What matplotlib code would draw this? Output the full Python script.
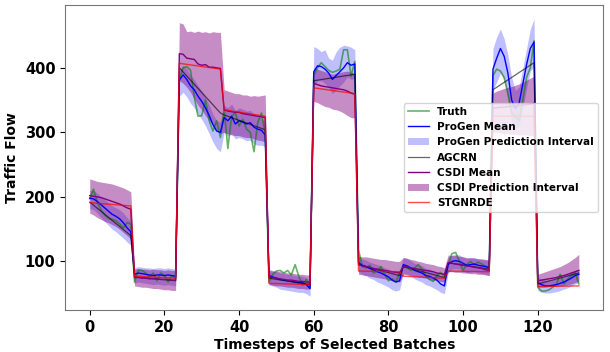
import numpy as np
import matplotlib
matplotlib.use("Agg")
import matplotlib.pyplot as plt
from matplotlib.patches import Patch
from matplotlib.lines import Line2D

# values, 11 batches of 12 timesteps
truth = [197, 212, 192, 180, 172, 167, 165, 163, 158, 152, 160, 158,
         68, 86, 86, 82, 75, 82, 70, 82, 78, 68, 78, 74,
         382, 400, 402, 396, 355, 325, 326, 350, 318, 302, 318, 292,
         335, 275, 325, 330, 310, 320, 305, 300, 270, 315, 330, 298,
         68, 80, 85, 86, 82, 86, 79, 95, 77, 63, 72, 60,
         388, 400, 408, 402, 396, 393, 395, 398, 428, 428, 387, 410,
         118, 92, 90, 94, 82, 85, 92, 80, 70, 73, 68, 82,
         93, 90, 86, 90, 95, 88, 78, 72, 69, 78, 83, 75,
         95, 112, 114, 100, 86, 95, 100, 94, 99, 96, 92, 92,
         388, 398, 395, 385, 360, 330, 325, 318, 350, 385, 400, 442,
         60, 54, 54, 56, 60, 65, 80, 65, 72, 78, 83, 65]

progen_mean = [198, 197, 193, 188, 183, 178, 173, 170, 166, 160, 152, 146,
               80, 82, 81, 80, 79, 78, 79, 79, 78, 79, 78, 77,
               381, 389, 382, 372, 366, 356, 348, 338, 326, 312, 302, 300,
               323, 318, 325, 313, 318, 316, 313, 315, 308, 305, 303, 296,
               78, 76, 74, 72, 71, 70, 69, 68, 67, 67, 64, 58,
               394, 403, 402, 398, 392, 382, 388, 394, 400, 408, 404, 406,
               98, 94, 92, 89, 87, 84, 82, 79, 76, 71, 68, 70,
               95, 93, 90, 86, 84, 82, 78, 77, 74, 71, 65, 62,
               95, 100, 101, 100, 97, 94, 95, 96, 94, 93, 92, 90,
               398, 415, 430, 418, 392, 350, 337, 345, 375, 405, 430, 440,
               67, 64, 62, 62, 63, 64, 66, 68, 71, 74, 78, 80]

progen_lo = [182, 180, 175, 168, 162, 156, 150, 146, 141, 136, 130, 125,
             66, 68, 67, 66, 65, 64, 65, 64, 63, 64, 63, 62,
             356, 362, 355, 345, 338, 328, 320, 310, 298, 285, 275, 270,
             300, 294, 298, 290, 292, 290, 287, 288, 282, 280, 280, 278,
             64, 62, 60, 57, 56, 55, 54, 53, 52, 52, 50, 46,
             372, 380, 380, 376, 370, 360, 366, 372, 378, 386, 382, 384,
             84, 80, 78, 74, 72, 68, 66, 63, 60, 56, 54, 56,
             82, 80, 77, 73, 70, 68, 64, 62, 59, 56, 52, 50,
             82, 88, 89, 88, 85, 82, 83, 84, 82, 81, 80, 78,
             365, 378, 392, 382, 352, 315, 305, 310, 338, 368, 395, 402,
             55, 52, 51, 51, 52, 53, 55, 57, 59, 62, 65, 67]

progen_hi = [210, 210, 206, 200, 196, 191, 186, 183, 180, 175, 168, 162,
             90, 92, 91, 90, 90, 89, 90, 90, 89, 90, 89, 88,
             396, 404, 398, 388, 382, 372, 364, 354, 342, 328, 318, 316,
             342, 338, 344, 334, 338, 336, 333, 334, 328, 325, 322, 316,
             88, 86, 84, 82, 81, 80, 79, 78, 77, 77, 75, 70,
             433, 430, 425, 428, 415, 412, 425, 432, 435, 434, 432, 428,
             108, 104, 102, 99, 97, 95, 93, 90, 88, 84, 82, 84,
             106, 104, 101, 97, 95, 93, 89, 88, 85, 82, 77, 74,
             106, 110, 111, 110, 107, 104, 105, 106, 104, 103, 102, 100,
             430, 448, 460, 445, 420, 385, 365, 370, 400, 430, 460, 476,
             75, 73, 71, 71, 72, 73, 75, 77, 80, 83, 86, 88]

csdi_mean = [202, 201, 200, 199, 197, 195, 193, 191, 189, 186, 183, 181,
             75, 75, 74, 74, 73, 73, 73, 72, 72, 72, 71, 71,
             422, 421, 415, 414, 413, 406, 404, 405, 401, 401, 400, 399,
             335, 333, 332, 331, 331, 329, 328, 327, 326, 325, 324, 323,
             76, 75, 74, 73, 72, 71, 71, 70, 69, 69, 68, 68,
             376, 374, 372, 371, 370, 369, 368, 367, 366, 364, 361, 359,
             95, 93, 92, 91, 89, 88, 87, 86, 85, 84, 83, 82,
             92, 91, 90, 89, 88, 87, 86, 85, 84, 82, 81, 80,
             98, 97, 96, 95, 94, 93, 92, 91, 90, 89, 87, 86,
             338, 338, 339, 339, 340, 340, 341, 342, 342, 343, 344, 345,
             70, 71, 72, 73, 74, 75, 77, 78, 80, 82, 84, 86]

csdi_lo = [175, 172, 168, 165, 162, 160, 157, 154, 150, 145, 140, 135,
           62, 61, 60, 60, 59, 58, 58, 57, 56, 56, 55, 55,
           380, 376, 370, 362, 352, 342, 335, 326, 318, 310, 302, 298,
           300, 298, 296, 295, 295, 293, 292, 292, 290, 288, 287, 285,
           64, 63, 62, 62, 61, 60, 60, 59, 58, 58, 57, 57,
           348, 346, 343, 340, 339, 336, 335, 333, 330, 326, 323, 322,
           80, 79, 78, 77, 76, 75, 74, 73, 72, 70, 69, 68,
           80, 79, 78, 77, 76, 75, 74, 72, 71, 70, 69, 68,
           84, 84, 83, 83, 82, 82, 81, 81, 80, 80, 79, 78,
           300, 300, 299, 298, 298, 297, 297, 296, 296, 296, 295, 295,
           60, 60, 60, 61, 61, 62, 62, 63, 64, 65, 67, 70]

csdi_hi = [228, 226, 224, 223, 222, 221, 220, 218, 216, 214, 211, 208,
           88, 89, 88, 88, 87, 88, 87, 87, 86, 87, 86, 86,
           470, 468, 456, 457, 455, 457, 455, 456, 454, 456, 455, 455,
           366, 364, 362, 360, 360, 358, 358, 356, 357, 356, 357, 358,
           86, 85, 85, 84, 83, 82, 82, 81, 80, 80, 79, 79,
           400, 398, 396, 394, 392, 390, 392, 393, 394, 395, 393, 392,
           108, 107, 107, 106, 105, 104, 103, 103, 102, 101, 100, 100,
           106, 105, 103, 102, 100, 99, 97, 96, 95, 93, 92, 90,
           110, 109, 109, 108, 107, 106, 106, 105, 104, 104, 103, 103,
           361, 364, 366, 368, 370, 371, 373, 375, 378, 381, 384, 387,
           80, 82, 84, 86, 88, 90, 92, 95, 98, 102, 106, 111]

# AGCRN and STGNRDE are straight within each batch: first and last value of every batch
agcrn_ends = [192, 140, 76, 70, 400, 330, 327, 304, 74, 64, 380, 390,
              95, 78, 92, 75, 98, 88, 366, 408, 65, 82]
stgnrde_ends = [191, 186, 77, 74, 407, 398, 335, 325, 66, 64, 369, 360,
                85, 84, 77, 74, 85, 84, 325, 325, 61, 62]

t = np.arange(len(truth))
starts = np.arange(0, len(truth), 12)
t_ends = np.column_stack([starts, starts + 11]).ravel()

fig = plt.figure(figsize=(6.1, 3.52), dpi=100)
ax = fig.add_axes([0.107, 0.119, 0.882, 0.867])

ax.fill_between(t, progen_lo, progen_hi, color='blue', alpha=0.25, lw=0)
ax.fill_between(t, csdi_lo, csdi_hi, color='purple', alpha=0.45, lw=0)
ax.plot(t, truth, color='green', alpha=0.6, lw=1.2)
ax.plot(t, progen_mean, color='blue', lw=1.0)
ax.plot(t_ends, agcrn_ends, color='black', alpha=0.6, lw=0.9)
ax.plot(t, csdi_mean, color='purple', lw=1.0)
ax.plot(t_ends, stgnrde_ends, color='red', alpha=0.7, lw=1.0)

ax.set_xticks([0, 20, 40, 60, 80, 100, 120])
ax.set_yticks([100, 200, 300, 400])
ax.tick_params(labelsize=10.5)
for lab in ax.get_xticklabels() + ax.get_yticklabels():
    lab.set_fontweight('bold')
ax.set_xlabel('Timesteps of Selected Batches', fontsize=10, fontweight='bold', labelpad=2)
ax.set_ylabel('Traffic Flow', fontsize=10, fontweight='bold', labelpad=4)
for sp in ax.spines.values():
    sp.set_color('#777777')

handles = [Line2D([], [], color='green', alpha=0.6, lw=1.2),
           Line2D([], [], color='blue', lw=1.0),
           Patch(facecolor='blue', alpha=0.25),
           Line2D([], [], color='black', alpha=0.6, lw=0.9),
           Line2D([], [], color='purple', lw=1.0),
           Patch(facecolor='purple', alpha=0.45),
           Line2D([], [], color='red', alpha=0.7, lw=1.0)]
labels = ['Truth', 'ProGen Mean', 'ProGen Prediction Interval', 'AGCRN',
          'CSDI Mean', 'CSDI Prediction Interval', 'STGNRDE']
ax.legend(handles, labels, loc='center right', prop={'weight': 'bold', 'size': 7.5})

fig.savefig('out.png', dpi=100)
